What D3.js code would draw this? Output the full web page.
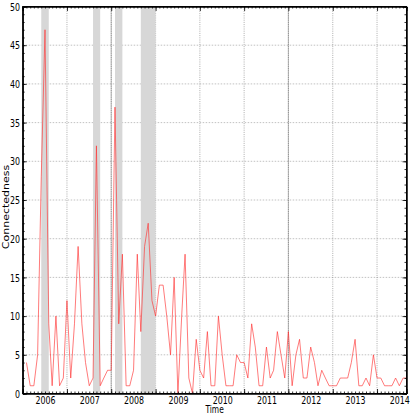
<!DOCTYPE html>
<html>
<head>
<meta charset="UTF-8">
<script src="https://cdn.jsdelivr.net/npm/d3@7"></script>
<style>
  body { margin: 0; background: #fff; }
  text { font-family: "DejaVu Sans", sans-serif; fill: #000; }
</style>
</head>
<body>
<div id="app"></div>
<script>
// monthly connectedness, first value is Aug 2005
const firstMonth = "2005-08";
const values = [
  4, 1, 1, 5, 28,                                  // 2005
  47, 9, 1, 10, 1, 2, 12, 2, 9, 19, 9, 4,          // 2006
  1, 2, 32, 1, 2, 3, 3, 37, 9, 18, 1, 1,           // 2007
  3, 18, 8, 19, 22, 12, 10, 14, 14, 10, 5, 15,     // 2008
  0, 10, 18, 2, 0, 7, 3, 2, 8, 1, 1, 10,           // 2009
  5, 1, 1, 1, 5, 4, 4, 2, 9, 6, 1, 1,              // 2010
  6, 2, 3, 8, 5, 2, 8, 1, 5, 7, 2, 2,              // 2011
  6, 4, 1, 3, 2, 1, 1, 1, 2, 2, 2, 4,              // 2012
  7, 1, 1, 2, 1, 5, 2, 2, 1, 1, 1, 2,              // 2013
  1, 2, 2                                          // 2014
];
const shaded = [["2005-12", "2006-02"], ["2007-02", "2007-04"], ["2007-08", "2007-10"], ["2008-03", "2008-07"]];
const markers = ["2007-07", "2011-07"];
const yearLabels = [2006, 2007, 2008, 2009, 2010, 2011, 2012, 2013, 2014];
const yTicks = [0, 5, 10, 15, 20, 25, 30, 35, 40, 45, 50];

const W = 415, H = 415;
const m = { left: 22.7, right: 406.5, top: 6.5, bottom: 393.5 };
const sx = 0.75; // labels are a bit narrow in the reference

const parse = d3.utcParse("%Y-%m");
const t0 = parse(firstMonth);
const series = values.map((v, i) => ({ date: d3.utcMonth.offset(t0, i), v: v }));

const svg = d3.select("#app").append("svg")
  .attr("width", W).attr("height", H);

const x = d3.scaleUtc()
  .domain([parse("2005-07"), parse("2014-03")])
  .range([m.left, m.right]);
const y = d3.scaleLinear().domain([0, 50]).range([m.bottom, m.top]);

const months = d3.utcMonth.range(parse("2005-07"), parse("2014-04"));
const julys = months.filter(d => d.getUTCMonth() === 6);

// grid
svg.append("g").selectAll("line")
  .data(yTicks.slice(1, -1)).enter().append("line")
  .attr("x1", m.left).attr("x2", m.right)
  .attr("y1", d => y(d)).attr("y2", d => y(d))
  .attr("stroke", "#a8a8a8").attr("stroke-width", 0.7)
  .attr("stroke-dasharray", "1.5,1.5");

svg.append("g").selectAll("line")
  .data(julys.filter(d => x(d) > m.left + 1 && x(d) < m.right - 1)).enter().append("line")
  .attr("x1", d => x(d)).attr("x2", d => x(d))
  .attr("y1", m.top).attr("y2", m.bottom)
  .attr("stroke", "#8a8a8a").attr("stroke-width", 0.7)
  .attr("stroke-dasharray", "1,1.2");

// shaded periods
svg.append("g").selectAll("rect")
  .data(shaded).enter().append("rect")
  .attr("x", d => x(parse(d[0])))
  .attr("width", d => x(parse(d[1])) - x(parse(d[0])))
  .attr("y", m.top).attr("height", m.bottom - m.top)
  .attr("fill", "#d7d7d7");

svg.append("g").selectAll("line")
  .data(markers).enter().append("line")
  .attr("x1", d => x(parse(d))).attr("x2", d => x(parse(d)))
  .attr("y1", m.top).attr("y2", m.bottom)
  .attr("stroke", "#444").attr("stroke-width", 0.7)
  .attr("stroke-dasharray", "1,1");

// line
const line = d3.line().x(d => x(d.date)).y(d => y(d.v));
svg.append("path")
  .datum(series)
  .attr("d", line)
  .attr("fill", "none")
  .attr("stroke", "#ff3030")
  .attr("stroke-width", 0.8)
  .attr("stroke-opacity", 0.8);

// axes: inward ticks on all four sides
const yMinor = d3.range(0, 51);
svg.append("g").attr("transform", `translate(${m.left},0)`)
  .call(d3.axisLeft(y).tickValues(yMinor).tickSize(-2).tickFormat(""));
svg.append("g").attr("transform", `translate(${m.right},0)`)
  .call(d3.axisRight(y).tickValues(yMinor).tickSize(-2).tickFormat(""));
svg.append("g").attr("transform", `translate(${m.right},0)`)
  .call(d3.axisRight(y).tickValues(yTicks).tickSize(-4).tickFormat(""));
const yAx = svg.append("g").attr("transform", `translate(${m.left},0)`)
  .call(d3.axisLeft(y).tickValues(yTicks).tickSize(-4));
yAx.selectAll("text")
  .attr("x", -3.5).attr("dy", "0.35em")
  .attr("font-size", 10.5)
  .attr("transform", `scale(${sx},1)`);

svg.append("g").attr("transform", `translate(0,${m.bottom})`)
  .call(d3.axisBottom(x).tickValues(months).tickSize(-2).tickFormat(""));
svg.append("g").attr("transform", `translate(0,${m.bottom})`)
  .call(d3.axisBottom(x).tickValues(julys).tickSize(-4.5).tickFormat(""));
svg.append("g").attr("transform", `translate(0,${m.top})`)
  .call(d3.axisTop(x).tickValues(months).tickSize(-2).tickFormat(""));
svg.append("g").attr("transform", `translate(0,${m.top})`)
  .call(d3.axisTop(x).tickValues(julys).tickSize(-4.5).tickFormat(""));

const xLab = svg.append("g").attr("transform", `translate(0,${m.bottom})`)
  .call(d3.axisBottom(x).tickValues(yearLabels.map(d => Date.UTC(d, 0, 1)))
    .tickSize(0).tickFormat(d => d3.utcFormat("%Y")(new Date(d))));
xLab.select(".domain").remove();
xLab.selectAll("text")
  .attr("y", 10).attr("dy", 0)
  .attr("font-size", 10.5)
  .attr("transform", `scale(${sx},1)`);

svg.selectAll(".domain").attr("stroke", "#000").attr("stroke-width", 1);
svg.selectAll(".tick line").attr("stroke", "#000").attr("stroke-width", 0.8);

// frame
svg.append("rect")
  .attr("x", m.left).attr("y", m.top)
  .attr("width", m.right - m.left).attr("height", m.bottom - m.top)
  .attr("fill", "none").attr("stroke", "#000").attr("stroke-width", 1);

// axis titles
svg.append("text")
  .attr("transform", `translate(${(m.left + m.right) / 2},412.5) scale(${sx},1)`)
  .attr("text-anchor", "middle")
  .attr("font-size", 10)
  .text("Time");
svg.append("text")
  .attr("transform", `translate(8.5,207) scale(${sx},1) rotate(-90)`)
  .attr("text-anchor", "middle")
  .attr("font-size", 11)
  .text("Connectedness");
</script>
</body>
</html>
